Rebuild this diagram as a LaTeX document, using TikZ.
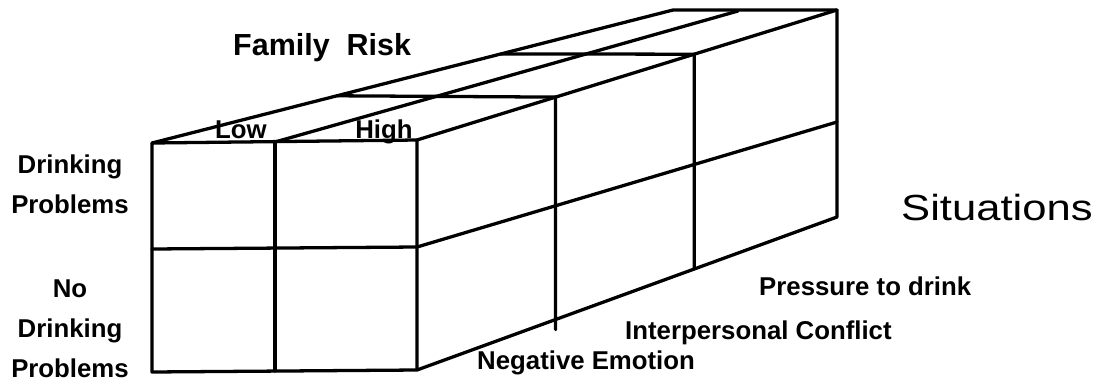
\documentclass[tikz,border=0pt]{standalone}
\usepackage{fontspec}
\setmainfont{Liberation Sans}
\newfontfamily\widesans[FakeStretch=1.2]{Liberation Sans}
\usetikzlibrary{calc}
\tikzset{
  boxline/.style={line width=2.8pt,line join=round,line cap=round},
  rowlbl/.style={font=\bfseries\fontsize{22}{34}\selectfont,align=center,
    anchor=base,inner sep=0pt},
  collbl/.style={font=\bfseries\fontsize{22}{26}\selectfont,anchor=base,
    inner sep=0pt},
  sitlbl/.style={font=\bfseries\fontsize{22}{26}\selectfont,anchor=base west,
    inner sep=0pt},
  headlbl/.style={font=\bfseries\fontsize{26}{30}\selectfont,anchor=base west,
    inner sep=0pt},
  biglbl/.style={font=\widesans\fontsize{31}{36}\selectfont,anchor=base west,
    inner sep=0pt}
}

\begin{document}
\begin{tikzpicture}[x=0.03cm,y=-0.03cm]
      \useasboundingbox (0,0) rectangle (1106,383);
      % front face
      \coordinate (ftl) at (152,143);
      \coordinate (ftm) at (275,142);
      \coordinate (ftr) at (417,140);
      \coordinate (fml) at (152,249);
      \coordinate (fmr) at (417,247);
      \coordinate (fbl) at (152,372);
      \coordinate (fbm) at (275,371);
      \coordinate (fbr) at (417,370);
      % back edges
      \coordinate (btl) at (673,10);
      \coordinate (btm) at (738,11);
      \coordinate (btr) at (837,10);
      \coordinate (bmr) at (837,122);
      \coordinate (bbr) at (837,217);
      % situation dividers
      \coordinate (s1t) at ($(ftr)!0.33!(btr)$);
      \coordinate (s2t) at ($(ftr)!0.66!(btr)$);
      \coordinate (s1b) at ($(fbr)!0.33!(bbr)+(0,10)$);
      \coordinate (s2b) at ($(fbr)!0.66!(bbr)$);
      \coordinate (c1) at ($(ftl)!0.355!(btl)$);
      \coordinate (c2) at ($(ftl)!0.67!(btl)$);

      \draw[boxline] (ftl) -- (ftr) -- (fbr) -- (fbl) -- cycle;
      \draw[boxline] (ftm) -- (fbm);
      \draw[boxline] (fml) -- (fmr) -- (bmr);
      \draw[boxline] (ftl) -- (btl) -- (btr) -- (bbr) -- (fbr);
      \draw[boxline] (ftr) -- (btr);
      \draw[boxline] (ftm) -- (btm);
      \draw[boxline] (c1) -- (s1t) -- (s1b);
      \draw[boxline] (c2) -- (s2t) -- (s2b);

      \node[headlbl] (famrisk) at (233,55) {Family~ Risk};
      \node[collbl] (low) at (241,138) {Low};
      \node[collbl] (high) at (384,138) {High};
      \node[rowlbl] (drink) at (70,213) {Drinking\\Problems};
      \node[rowlbl] (nodrink) at (70,377) {No\\Drinking\\Problems};
      \node[sitlbl] (negemo) at (477,369) {Negative Emotion};
      \node[sitlbl] (conflict) at (625,339) {Interpersonal Conflict};
      \node[sitlbl] (pressure) at (759,295) {Pressure to drink};
      \node[biglbl] (situations) at (901,220) {Situations};
    \end{tikzpicture}
\end{document}
